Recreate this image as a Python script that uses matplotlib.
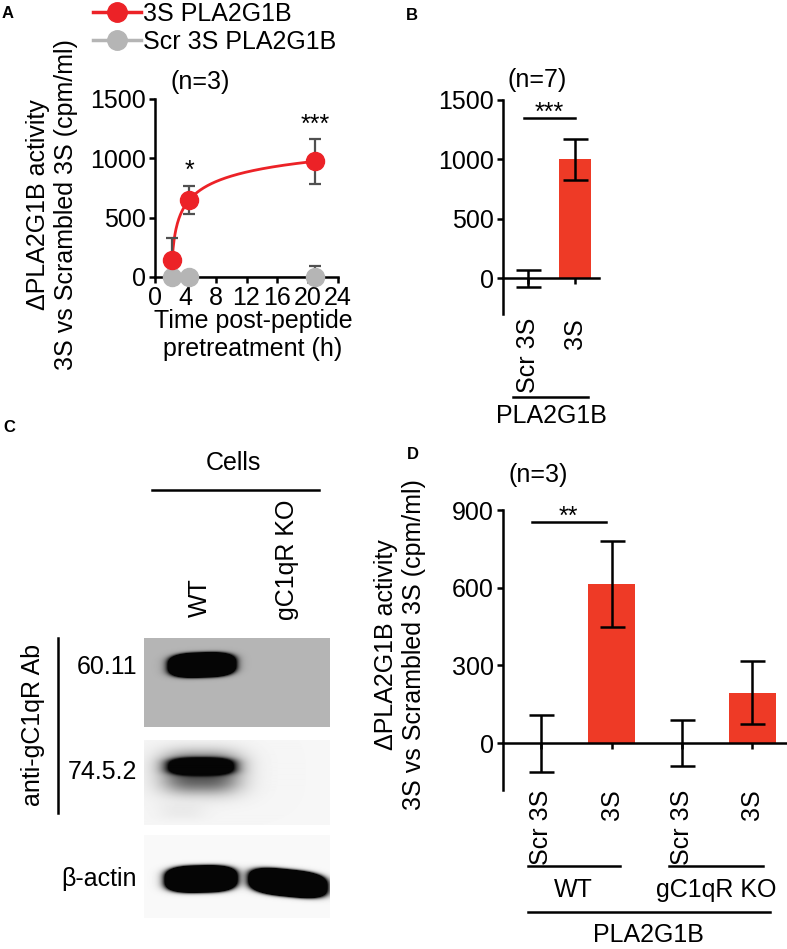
import numpy as np
import matplotlib
matplotlib.use("Agg")
import matplotlib.pyplot as plt
from matplotlib.lines import Line2D

plt.rcParams["font.family"] = ["Liberation Sans", "DejaVu Sans"]
plt.rcParams["font.size"] = 18

W, H = 787, 949  # figure size in pixels (dpi 100)

RED = "#EC2227"
BAR_RED = "#EE3A26"
GREY = "#B5B5B5"
ERR_GREY = "#505050"

# --- panel A: time course ---
time_h = [2.25, 4.5, 21.0]
act_3s = [143, 650, 975]
err_3s = [185, 120, 190]
act_scr = [0, 0, 0]
err_scr = [20, 20, 95]
sig_a = ["", "*", "***"]

# --- panel B: n=7 ---
b_labels = ["Scr 3S", "3S"]
b_values = [0, 1000]
b_errors = [72, 170]

# --- panel D: WT vs gC1qR KO ---
d_labels = ["Scr 3S", "3S", "Scr 3S", "3S"]
d_values = [0, 615, 0, 195]
d_errors = [110, 166, 90, 123]
d_groups = ["WT", "gC1qR KO"]

# --- panel C: western blot labels ---
blot_lanes = ["WT", "gC1qR KO"]
blot_rows = ["60.11", "74.5.2", "β-actin"]


def fx(x):
    return x / W


def fy(y):
    return 1 - y / H


def box(left, top, right, bottom):
    return [left / W, 1 - bottom / H, (right - left) / W, (bottom - top) / H]


def style_axis(ax):
    for side in ("top", "right"):
        ax.spines[side].set_visible(False)
    for side in ("left", "bottom"):
        ax.spines[side].set_linewidth(1.8)
    ax.tick_params(direction="out", length=4.5, width=1.8, labelsize=18, pad=2)


fig = plt.figure(figsize=(W / 100, H / 100), dpi=100)


def ftext(x, y, s, **kw):
    return fig.text(fx(x), fy(y), s, **kw)


def hline(x0, x1, y, lw=1.8):
    fig.add_artist(Line2D([fx(x0), fx(x1)], [fy(y), fy(y)], color="black", lw=lw))


def vline(x, y0, y1, lw=1.8):
    fig.add_artist(Line2D([fx(x), fx(x)], [fy(y0), fy(y1)], color="black", lw=lw))


# ================= Panel A =================
axA = fig.add_axes(box(155, 99, 338, 277))
style_axis(axA)
axA.set_xlim(0, 24)
axA.set_ylim(0, 1500)
axA.set_xticks(range(0, 25, 4))
axA.set_yticks([0, 500, 1000, 1500])

# smooth fitted curve through the 3S points (quadratic in log time)
u = np.log(np.array(time_h) - 2.0)
coef = np.polyfit(u, act_3s, 2)
t_fit = np.linspace(time_h[0], time_h[-1], 300)
axA.plot(t_fit, np.polyval(coef, np.log(t_fit - 2.0)), color=RED, lw=2, zorder=3)
axA.plot(time_h, act_scr, color=GREY, lw=2, zorder=2)
axA.errorbar(time_h, act_scr, yerr=err_scr, fmt="none", ecolor=ERR_GREY,
             elinewidth=1.6, capsize=4, capthick=1.6, zorder=2)
axA.errorbar(time_h, act_3s, yerr=err_3s, fmt="none", ecolor=ERR_GREY,
             elinewidth=1.6, capsize=4, capthick=1.6, zorder=4)
axA.plot(time_h, act_scr, "o", color=GREY, ms=13, zorder=5, clip_on=False)
axA.plot(time_h, act_3s, "o", color=RED, ms=13, zorder=6, clip_on=False)
for t, v, e, s in zip(time_h, act_3s, err_3s, sig_a):
    if s:
        axA.text(t, v + e + 20, s, ha="center", va="bottom", fontsize=18)

handles = [
    Line2D([], [], color=RED, lw=2.5, marker="o", ms=14),
    Line2D([], [], color=GREY, lw=2.5, marker="o", ms=14),
]
fig.legend(handles, ["3S PLA2G1B", "Scr 3S PLA2G1B"], loc="upper left",
           bbox_to_anchor=(fx(93), fy(2)), frameon=False, borderpad=0,
           borderaxespad=0, handlelength=1.9, handletextpad=0.1,
           labelspacing=0.15, fontsize=18)

ftext(200, 82, "(n=3)", ha="center", va="center")
ftext(52, 205, "ΔPLA2G1B activity\n3S vs Scrambled 3S (cpm/ml)",
      rotation=90, ha="center", va="center", multialignment="center")
ftext(253, 335, "Time post-peptide\npretreatment (h)", ha="center", va="center",
      multialignment="center")


# ================= bar panels (B and D) =================
def bar_panel(ax, labels, values, errors, ylim, yticks, pad):
    style_axis(ax)
    x = np.arange(len(values))
    ax.bar(x, values, width=0.68, color=BAR_RED, zorder=2)
    ax.errorbar(x, values, yerr=errors, fmt="none", ecolor="black",
                elinewidth=1.8, capsize=9, capthick=1.8, zorder=3)
    ax.spines["bottom"].set_position(("data", 0))
    ax.set_ylim(*ylim)
    ax.set_yticks(yticks)
    ax.set_xticks(x)
    ax.set_xticklabels(labels, rotation=90, va="top")
    ax.tick_params(axis="x", pad=pad)
    return x


axB = fig.add_axes(box(503, 100, 599, 314))
bar_panel(axB, b_labels, b_values, b_errors, (-300, 1500), [0, 500, 1000, 1500], 24)
axB.set_xlim(-0.53, 1.51)
axB.plot([-0.08, 1.0], [1350, 1350], color="black", lw=1.8, clip_on=False)
axB.text(0.46, 1295, "***", ha="center", va="bottom", fontsize=18)
ftext(537, 80, "(n=7)", ha="center", va="center")
hline(513, 588, 397)
ftext(551, 416, "PLA2G1B", ha="center", va="center")

axD = fig.add_axes(box(503, 510, 787, 790))
bar_panel(axD, d_labels, d_values, d_errors, (-181, 900), [0, 300, 600, 900], 29)
axD.set_xlim(-0.54, 3.49)
axD.plot([-0.13, 0.92], [853, 853], color="black", lw=1.8, clip_on=False)
axD.text(0.39, 826, "**", ha="center", va="bottom", fontsize=18)
ftext(538, 475, "(n=3)", ha="center", va="center")
ftext(400, 645, "ΔPLA2G1B activity\n3S vs Scrambled 3S (cpm/ml)",
      rotation=90, ha="center", va="center", multialignment="center")
hline(528, 620, 866)
hline(669, 763, 866)
ftext(573, 890, d_groups[0], ha="center", va="center")
ftext(716, 890, d_groups[1], ha="center", va="center")
hline(528, 770, 912)
ftext(648, 935, "PLA2G1B", ha="center", va="center")


# ================= Panel C: blot =================
def sig(v):
    return 1.0 / (1.0 + np.exp(-v))


def strip_image(w, h, bg, bands):
    # each band: centre x/y, half width/height, tilt, edge softness, strength
    yy, xx = np.mgrid[0:h, 0:w] + 0.5
    dens = np.zeros((h, w))
    for cx, cy, a, b, tilt, soft, strength in bands:
        dy = yy - (cy + tilt * (xx - cx))
        d = (np.abs((xx - cx) / a) ** 3 + np.abs(dy / b) ** 3) ** (1 / 3)
        dens += strength * sig((1 - d) / soft)
    d = np.clip(dens, 0, 1)
    return bg * (1 - d) + 0.02 * d


strips = [
    # (top, bottom, background, bands in strip pixels)
    (638, 727, 0.71, [(58, 27, 33, 12, -0.03, 0.08, 2.5)]),
    (740, 825, 0.965, [(57, 27, 32, 8, 0.0, 0.14, 1.3),
                       (57, 33, 34, 18, 0.0, 0.25, 0.7),
                       (38, 72, 20, 7, 0.0, 0.35, 0.05)]),
    (835, 918, 0.975, [(57, 44, 35, 13, -0.02, 0.08, 2.5),
                       (144, 48, 38, 13, 0.1, 0.08, 2.5)]),
]
for top, bottom, bg, bands in strips:
    axS = fig.add_axes(box(144, top, 330, bottom))
    img = strip_image(186, bottom - top, bg, bands)
    axS.imshow(img, cmap="gray", vmin=0, vmax=1, aspect="auto",
               interpolation="bilinear", extent=(0, 186, bottom - top, 0))
    axS.set_axis_off()

ftext(233, 463, "Cells", ha="center", va="center")
hline(152, 319, 490)
ftext(200, 617, blot_lanes[0], rotation=90, ha="center", va="bottom")
ftext(287, 620, blot_lanes[1], rotation=90, ha="center", va="bottom")
for y, s in zip([667, 772, 879], blot_rows):
    ftext(137, y, s, ha="right", va="center")
vline(58, 638, 813)
ftext(33, 725, "anti-gC1qR Ab", rotation=90, ha="center", va="center")

# panel letters
for x, y, s in [(8, 14, "A"), (412, 16, "B"), (9, 428, "C"), (413, 455, "D")]:
    ftext(x, y, s, ha="center", va="center", fontsize=12, fontweight="bold")

fig.savefig("out.png", dpi=100)
